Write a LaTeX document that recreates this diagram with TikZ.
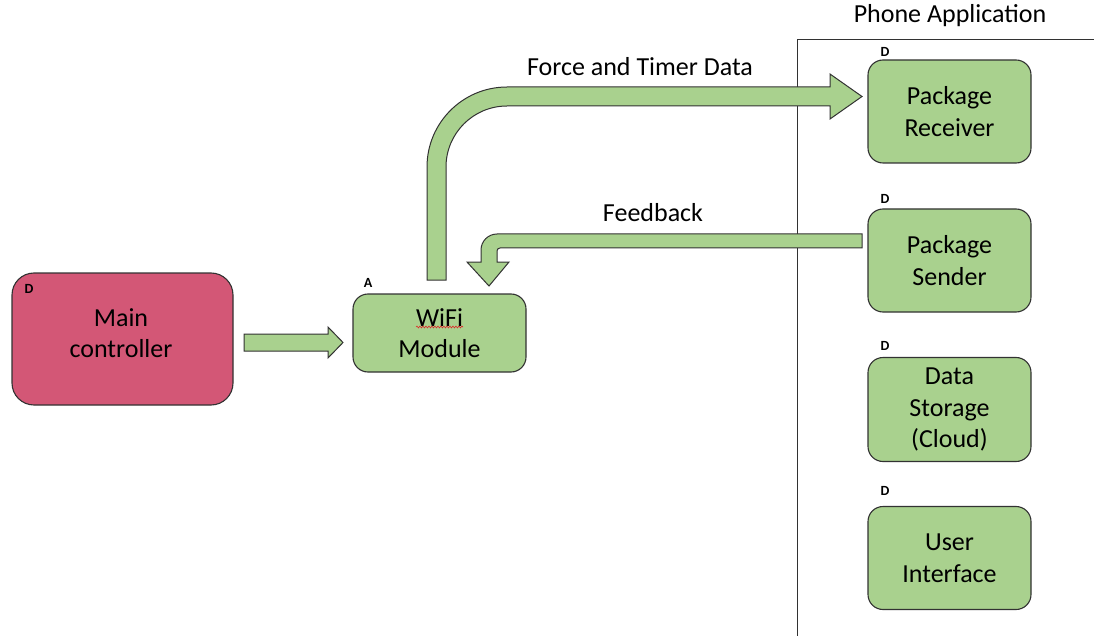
\documentclass[tikz,border=0pt]{standalone}
\usepackage{fontspec}
\setmainfont{Carlito}
\newfontfamily\tagfont{Carlito Bold}
\usetikzlibrary{decorations.pathmorphing}
\definecolor{boxgreen}{RGB}{169,209,142}
\definecolor{boxred}{RGB}{211,87,118}
\definecolor{edge}{RGB}{50,50,50}
\definecolor{spell}{RGB}{220,40,40}
\tikzset{
  blk/.style={draw=edge, line width=1.1pt, rounded corners=15pt, align=center, inner sep=0pt,
     font=\fontsize{26}{31.5}\selectfont},
  greenbox/.style={blk, fill=boxgreen},
  redbox/.style={blk, fill=boxred, rounded corners=22pt},
  tag/.style={font=\tagfont\fontsize{14}{15}\selectfont, inner sep=0pt},
  lbl/.style={font=\fontsize{26}{31}\selectfont, inner sep=0pt},
  blockarrow/.style={draw=edge, line width=1pt, fill=boxgreen, line join=miter},
  frame/.style={draw=edge, line width=1pt}
}
\begin{document}
\begin{tikzpicture}[x=1pt,y=-1pt]
\useasboundingbox (0,0) rectangle (1094,636);
% boxes
\node[redbox, minimum width=221pt, minimum height=132pt] (main) at (122.5,339) {};
\node[blk, draw=none, fill=none] (maintext) at (121,333) {Main\\controller};
\node[greenbox, minimum width=173pt, minimum height=78pt] (wifi) at (439.5,333) {WiFi\\Module};
\node[greenbox, minimum width=163pt, minimum height=103pt] (recv) at (949.5,111.5) {Package\\Receiver};
\node[greenbox, minimum width=163pt, minimum height=103pt] (send) at (949.5,260.5) {Package\\Sender};
\node[greenbox, minimum width=163pt, minimum height=104pt] (store) at (949.5,409.5) {Data\\Storage\\(Cloud)};
\node[greenbox, minimum width=163pt, minimum height=103pt] (ui) at (949.5,558) {User\\Interface};
% tags
\node[tag] (tmain) at (29,289) {D};
\node[tag] (twifi) at (368,283) {A};
\node[tag] (trecv) at (885,52) {D};
\node[tag] (tsend) at (885,199) {D};
\node[tag] (tstore) at (885,346) {D};
\node[tag] (tui) at (885,491) {D};
% spell-check squiggle
\draw[spell, line width=0.6pt, decorate, decoration={snake, amplitude=0.9pt, segment length=3pt}] (416,327) -- (463,327);
% phone application frame
\node[lbl] (phone) at (950,16) {Phone Application};
\coordinate (ftop) at (797,636);
\coordinate (fcorner) at (797,40);
\coordinate (fright) at (1094,40);
\draw[frame] (ftop) -- (fcorner) -- (fright);
% straight arrow main -> wifi
\draw[blockarrow] (244,334) -- (328,334) -- (328,327) -- (343,342.5) -- (328,358) -- (328,351) -- (244,351) -- cycle;
% bent arrow wifi -> receiver
\draw[blockarrow] (427,280) -- (427,167) .. controls (427,122.8) and (462.8,87) .. (507,87)
   -- (830,87) -- (830,74) -- (862,96.5) -- (830,119) -- (830,106) -- (507,106)
   .. controls (473.3,106) and (446,133.3) .. (446,167) -- (446,280) -- cycle;
% feedback arrow sender -> wifi
\draw[blockarrow] (862,234) -- (497,234) .. controls (488.2,234) and (481,241.2) .. (481,250)
   -- (481,262) -- (467,262) -- (489,286) -- (509,262) -- (497,262) -- (497,251)
   .. controls (497,249.3) and (498.3,248) .. (500,248) -- (862,248) -- cycle;
% labels
\node[lbl] (force) at (640,67) {Force and Timer Data};
\node[lbl] (fb) at (653,213) {Feedback};
\end{tikzpicture}
\end{document}
